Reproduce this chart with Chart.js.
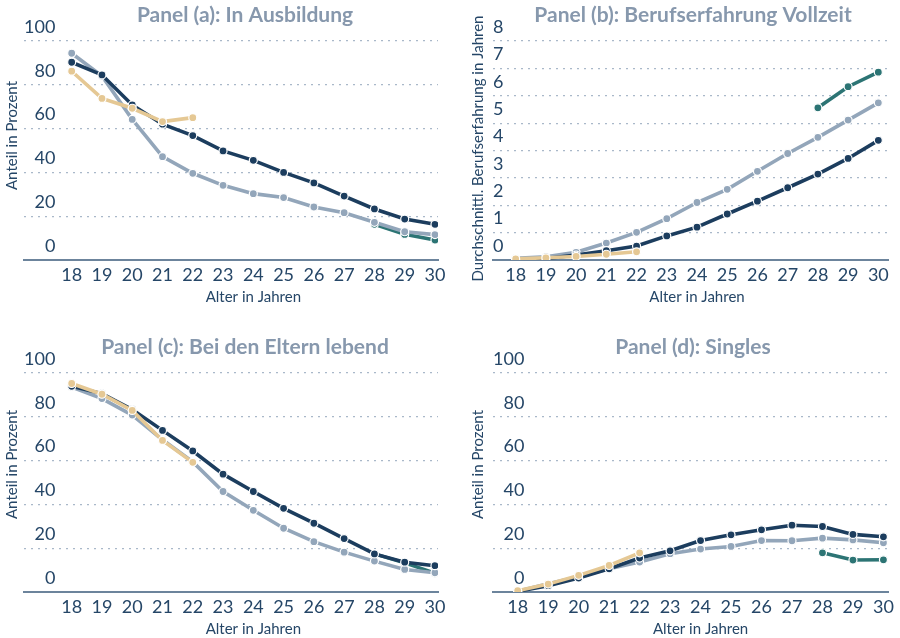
<!DOCTYPE html>
<html>
<head>
<meta charset="utf-8">
<script src="https://cdn.jsdelivr.net/npm/chart.js@4/dist/chart.umd.min.js"></script>
<style>
  body { margin: 0; width: 900px; height: 638px; overflow: hidden; background: #fff; position: relative; }
  canvas { position: absolute; }
</style>
</head>
<body>
<canvas id="panelA" width="490" height="310" style="left:0;top:0"></canvas>
<canvas id="panelB" width="486" height="310" style="left:450px;top:0"></canvas>
<canvas id="panelC" width="490" height="310" style="left:0;top:332px"></canvas>
<canvas id="panelD" width="486" height="310" style="left:450px;top:332px"></canvas>
<script>
// Alter 18..30
const ages = [18, 19, 20, 21, 22, 23, 24, 25, 26, 27, 28, 29, 30]

// Panel (a): In Ausbildung (Prozent)
const ausbNavy = [90.3, 84.5, 70.8, 62, 56.8, 49.8, 45.5, 40, 35.2, 29.2, 23.3, 18.7, 16.3]
const ausbGrau = [94.4, 84, 64.2, 47.2, 39.6, 34.1, 30.3, 28.5, 24.2, 21.6, 17.2, 12.9, 11.6]
const ausbBeige = [86.2, 73.8, 69.3, 63.2, 65, null, null, null, null, null, null, null, null]
const ausbPetrol = [null, null, null, null, null, null, null, null, null, null, 16.3, 11.7, 9.1]

// Panel (b): Berufserfahrung Vollzeit (Jahre)
const erfNavy = [0.02, 0.05, 0.18, 0.34, 0.51, 0.88, 1.2, 1.68, 2.15, 2.64, 3.14, 3.71, 4.37]
const erfGrau = [0.06, 0.12, 0.28, 0.62, 1.01, 1.51, 2.1, 2.58, 3.24, 3.89, 4.48, 5.11, 5.74]
const erfBeige = [0.04, 0.08, 0.13, 0.21, 0.3, null, null, null, null, null, null, null, null]
const erfPetrol = [null, null, null, null, null, null, null, null, null, null, 5.56, 6.33, 6.86]

// Panel (c): Bei den Eltern lebend (Prozent)
const elternNavy = [93.9, 90.6, 83.3, 73.8, 64.4, 53.8, 45.9, 38.2, 31.4, 24.4, 17.4, 13.6, 12]
const elternGrau = [93.6, 88.3, 80.8, 69.5, 59.4, 45.9, 37.3, 29.1, 23, 18.2, 14.1, 10.3, 8.8]
const elternBeige = [95.2, 90.3, 82.9, 69.2, 59.2, null, null, null, null, null, null, null, null]
const elternPetrol = [null, null, null, null, null, null, null, null, null, null, 17.4, 13.3, 8.6]

// Panel (d): Singles (Prozent)
const singleNavy = [0.3, 2.9, 6.4, 10.6, 15.5, 18.8, 23.5, 26.1, 28.4, 30.5, 29.9, 26.3, 25.2]
const singleGrau = [0.3, 3.8, 7, 10.6, 13.7, 17.5, 19.6, 20.8, 23.5, 23.4, 24.6, 23.8, 22.5]
const singleBeige = [0.6, 3.6, 7.6, 12.1, 17.9, null, null, null, null, null, null, null, null]
const singlePetrol = [null, null, null, null, null, null, null, null, null, null, 17.9, 14.6, 14.7]

const NAVY = '#1c3d5e'
const GRAU = '#93a6ba'
const BEIGE = '#e5c894'
const PETROL = '#2c7474'
const TEXT = '#254667'
const TITLE = '#8798ad'
const GRID = '#a9b8c9'
const AXIS = '#6c849c'
const FONT = 'Lato'
const AXIS_FONT = 15

// axis titles: x centred over the age range, y shifted like the tick labels
const axisTitles = {
  id: 'axisTitles',
  afterDraw(chart, args, opts) {
    const { ctx, chartArea, scales: { x, y } } = chart
    const lh = AXIS_FONT * 1.2
    ctx.save()
    ctx.fillStyle = TEXT
    ctx.font = `${AXIS_FONT}px ${FONT}`
    ctx.textAlign = 'center'
    ctx.textBaseline = 'middle'
    const xc = (x.getPixelForValue(ages[0]) + x.getPixelForValue(ages[ages.length - 1])) / 2
    ctx.fillText(opts.xText, xc, x.bottom - 4 - lh / 2)
    ctx.translate(y.left + opts.yPad + lh / 2, (chartArea.top + chartArea.bottom) / 2 + opts.yShift)
    ctx.rotate(-Math.PI / 2)
    ctx.fillText(opts.yText, 0, 0)
    ctx.restore()
  }
}

function toPoints(vals) {
  return vals.map((v, i) => ({ x: ages[i], y: v }))
}

function dataset(vals, color, order) {
  return {
    data: toPoints(vals),
    borderColor: color,
    backgroundColor: color,
    borderWidth: 3.6,
    pointRadius: 4,
    pointBorderWidth: 1.2,
    pointBorderColor: '#fff',
    pointBackgroundColor: color,
    spanGaps: false,
    order: order
  }
}

function makePanel(id, title, yTitle, yMax, yStep, xMin, xMax, series, left, yShift) {
  const [navy, grau, beige, petrol] = series
  const yPad = left ? { top: 3, bottom: 3 } : { top: 19, bottom: 6 }
  new Chart(document.getElementById(id), {
    type: 'line',
    data: {
      datasets: [
        dataset(beige, BEIGE, 0),
        dataset(navy, NAVY, 1),
        dataset(grau, GRAU, 2),
        dataset(petrol, PETROL, 3)
      ]
    },
    plugins: [axisTitles],
    options: {
      responsive: false,
      animation: false,
      devicePixelRatio: 1,
      layout: { padding: 0 },
      plugins: {
        legend: { display: false },
        tooltip: { enabled: false },
        title: {
          display: true,
          text: title,
          color: TITLE,
          font: { family: FONT, size: 21, weight: 'bold' },
          padding: { top: 2.4, bottom: 13.4 }
        },
        axisTitles: { xText: 'Alter in Jahren', yText: yTitle, yPad: yPad.top, yShift: yShift }
      },
      scales: {
        x: {
          type: 'linear',
          min: xMin,
          max: xMax,
          afterBuildTicks: (s) => { s.ticks = ages.map(v => ({ value: v })) },
          grid: { display: false, drawTicks: false },
          border: { display: true, color: AXIS, width: 2 },
          ticks: {
            color: TEXT, font: { family: FONT, size: 18 }, padding: 4,
            maxRotation: 0, autoSkip: false
          },
          title: {
            display: true, text: 'Alter in Jahren', color: 'rgba(0,0,0,0)',
            font: { family: FONT, size: AXIS_FONT }, padding: { top: -1.6, bottom: 4 }
          }
        },
        y: {
          min: 0,
          max: yMax,
          ticks: {
            stepSize: yStep, mirror: true, crossAlign: 'far', padding: 0,
            labelOffset: -14, color: TEXT, font: { family: FONT, size: 18 }
          },
          grid: { color: GRID, drawTicks: false, lineWidth: 1.2 },
          border: { display: false, dash: [2, 5] },
          title: {
            display: true, text: yTitle, color: 'rgba(0,0,0,0)',
            font: { family: FONT, size: AXIS_FONT }, padding: yPad
          }
        },
        rand: {
          type: 'linear',
          axis: 'y',
          position: 'right',
          grid: { display: false },
          border: { display: false },
          ticks: { display: false },
          afterFit: (s) => { s.width = left ? 52 : 48 }
        }
      }
    }
  })
}

makePanel('panelA', 'Panel (a): In Ausbildung', 'Anteil in Prozent', 100, 20, 16.425, 30.1,
  [ausbNavy, ausbGrau, ausbBeige, ausbPetrol], true, -15)
makePanel('panelB', 'Panel (b): Berufserfahrung Vollzeit', 'Durchschnittl. Berufserfahrung in Jahren', 8, 1, 17.25, 30.32,
  [erfNavy, erfGrau, erfBeige, erfPetrol], false, -2)
makePanel('panelC', 'Panel (c): Bei den Eltern lebend', 'Anteil in Prozent', 100, 20, 16.425, 30.1,
  [elternNavy, elternGrau, elternBeige, elternPetrol], true, -18)
makePanel('panelD', 'Panel (d): Singles', 'Anteil in Prozent', 100, 20, 17.19, 30.15,
  [singleNavy, singleGrau, singleBeige, singlePetrol], false, -18)
</script>
</body>
</html>
